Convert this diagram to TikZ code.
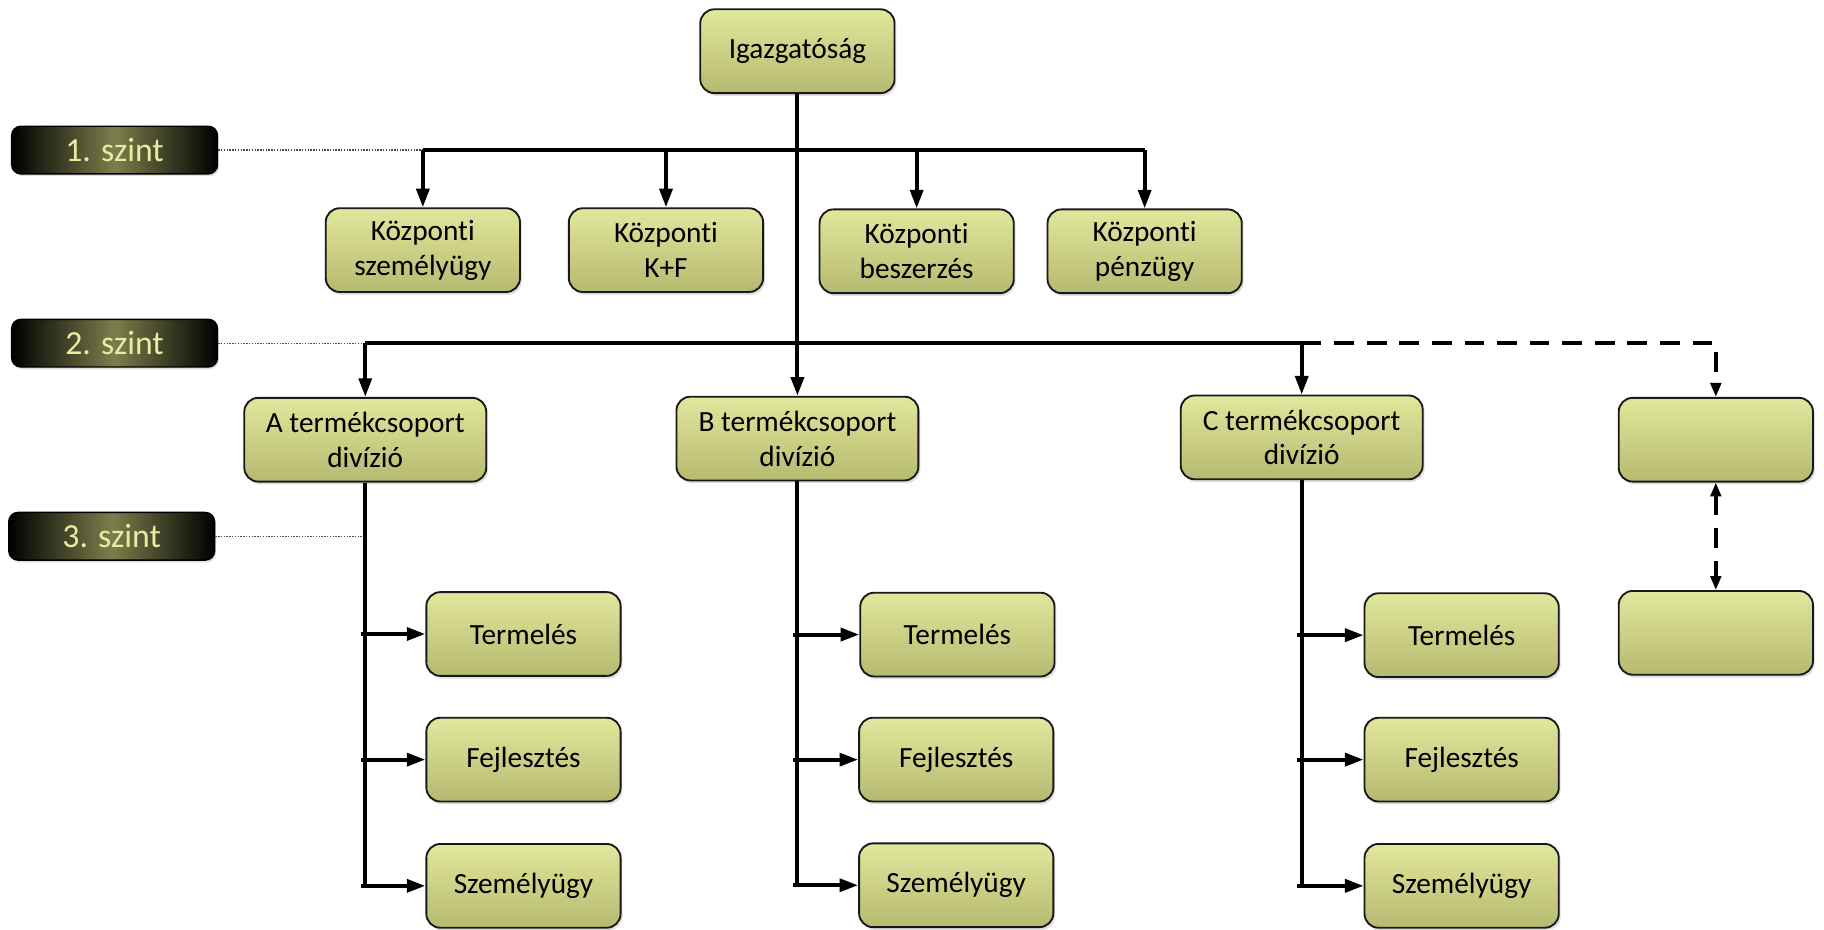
\documentclass[tikz,border=0pt]{standalone}
\usepackage{fontspec}
\setmainfont{Carlito}[Ligatures=NoCommon]
\usetikzlibrary{arrows.meta,shadows}

\definecolor{boxtop}{HTML}{E1E79C}
\definecolor{boxbot}{HTML}{B6BA70}
\definecolor{lvlmid}{HTML}{7C7F4C}
\definecolor{lvltext}{HTML}{E8ECA0}

\tikzset{
  unit/.style={
    draw=black!90, line width=0.8pt, rounded corners=6pt,
    top color=boxtop, bottom color=boxbot,
    drop shadow={opacity=0.25, shadow xshift=0.8pt, shadow yshift=-1.2pt},
    align=center, font=\fontsize{12.6}{15}\selectfont,
    inner sep=0pt, minimum width=83.5pt, minimum height=36pt},
  wideunit/.style={unit, minimum width=104pt},
  lvlbox/.style={
    draw=black, line width=0.6pt, rounded corners=4pt,
    left color=black, right color=black, middle color=lvlmid,
    drop shadow={opacity=0.25, shadow xshift=0.6pt, shadow yshift=-1pt},
    text=lvltext, font=\fontsize{14.5}{16}\selectfont,
    inner sep=0pt, minimum width=88.5pt, minimum height=20.5pt},
  line/.style={line width=1.7pt, black},
  arr/.style={line, -{Triangle[length=8pt,width=5.5pt]}},
  dasharr/.style={line width=1.9pt, black, dash pattern=on 8.5pt off 5.5pt,
    -{Triangle[length=6pt,width=4.5pt]}},
  dotline/.style={line width=0.5pt, black!70, dash pattern=on 0.6pt off 0.6pt},
}

\begin{document}
\begin{tikzpicture}[x=0.5pt, y=-0.5pt]
  \useasboundingbox (0,0) rectangle (1568,799);

  % bus levels
  \coordinate (bar1) at (0,129);
  \coordinate (bar2) at (0,295);

  % level markers
  \node[lvlbox] (l1) at (98.5,129) {1. szint};
  \node[lvlbox] (l2) at (98.5,295) {2. szint};
  \node[lvlbox] (l3) at (96,461) {3. szint};

  % top management
  \node[unit] (igaz) at (685.5,44) {Igazgatóság};

  % central functions
  \node[unit] (k1) at (363.5,215) {Központi\\személyügy};
  \node[unit] (k2) at (572.5,215) {Központi\\K+F};
  \node[unit] (k3) at (788,216) {Központi\\beszerzés};
  \node[unit] (k4) at (984,216) {Központi\\pénzügy};

  % divisions
  \node[wideunit] (A) at (314,378) {A termékcsoport\\divízió};
  \node[wideunit] (B) at (685.5,377) {B termékcsoport\\divízió};
  \node[wideunit] (C) at (1119,376) {C termékcsoport\\divízió};
  \node[unit] (R1) at (1475,378) {};
  \node[unit] (R2) at (1475,544) {};

  % division units
  \node[unit] (At) at (450,545) {Termelés};
  \node[unit] (Af) at (450,653) {Fejlesztés};
  \node[unit] (As) at (450,761.5) {Személyügy};
  \node[unit] (Bt) at (823,545.5) {Termelés};
  \node[unit] (Bf) at (822,653) {Fejlesztés};
  \node[unit] (Bs) at (822,761) {Személyügy};
  \node[unit] (Ct) at (1256.5,546) {Termelés};
  \node[unit] (Cf) at (1256.5,653) {Fejlesztés};
  \node[unit] (Cs) at (1256.5,761.5) {Személyügy};

  % marker guide lines
  \draw[dotline] (l1.east) -- (k1 |- l1.east);
  \draw[dotline] (l2.east) -- (A |- l2.east);
  \draw[dotline] (l3.east) -- (A |- l3.east);

  % main trunk
  \draw[arr] (igaz.south) -- (igaz.south |- B.north);

  % level 1 bus
  \draw[line] (k1 |- bar1) -- (k4 |- bar1);
  \foreach \n in {k1,k2,k3,k4}
    \draw[arr] (\n |- bar1) -- (\n.north);

  % level 2 bus
  \draw[line] (A |- bar2) -- (C |- bar2);
  \draw[arr] (A |- bar2) -- (A.north);
  \draw[arr] (C |- bar2) -- (C.north);
  \draw[dasharr] (C |- bar2) -- (R1 |- bar2) -- (R1.north);
  \draw[dasharr, {Triangle[length=6pt,width=4.5pt]}-{Triangle[length=6pt,width=4.5pt]}]
    (R1.south) -- (R2.north);

  % division trunks
  \foreach \d in {A,B,C}{
    \draw[line] (\d.south) -- (\d |- \d s.west);
    \foreach \u in {t,f,s}
      \draw[arr] ([xshift=-2pt]\d |- \d\u.west) -- (\d\u.west);
  }
\end{tikzpicture}
\end{document}
